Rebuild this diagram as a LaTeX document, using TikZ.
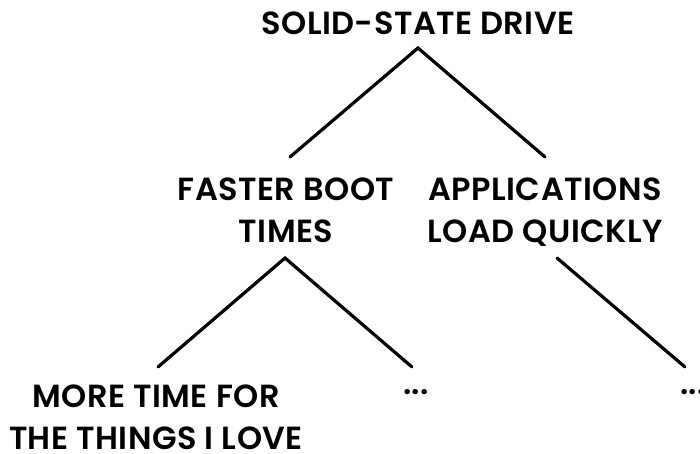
\documentclass[tikz,border=0pt]{standalone}
\usepackage{fontspec}
\setmainfont{Poppins}[BoldFont={Poppins SemiBold},BoldFeatures={LetterSpace=1.5}]
\begin{document}
\begin{tikzpicture}[x=1pt,y=-1pt,
  lbl/.style={font=\fontsize{32}{42}\selectfont\bfseries, align=center, inner sep=0pt, anchor=base},
  conn/.style={line width=3.2pt, line cap=round}]
\useasboundingbox (0,0) rectangle (700,454);
\node[lbl] (root) at (418,35) {SOLID-STATE DRIVE};
\node[lbl] (fast) at (286,242) {FASTER BOOT\\TIMES};
\node[lbl] (apps) at (545,242) {APPLICATIONS\\LOAD QUICKLY};
\node[lbl] (more) at (156,449) {MORE TIME FOR\\THE THINGS I LOVE};
\node[lbl] (dotsA) at (416,394) {...};
\node[lbl] (dotsB) at (693,394) {...};
\coordinate (r0) at (418,48);
\coordinate (f0) at (290,157);
\coordinate (a0) at (545,157);
\coordinate (f1) at (285,258);
\coordinate (m0) at (158,367);
\coordinate (d0) at (412,367);
\coordinate (a1) at (557,258);
\coordinate (d1) at (685,367);
\draw[conn] (f0) -- (r0) -- (a0);
\draw[conn] (m0) -- (f1) -- (d0);
\draw[conn] (a1) -- (d1);
\end{tikzpicture}
\end{document}
